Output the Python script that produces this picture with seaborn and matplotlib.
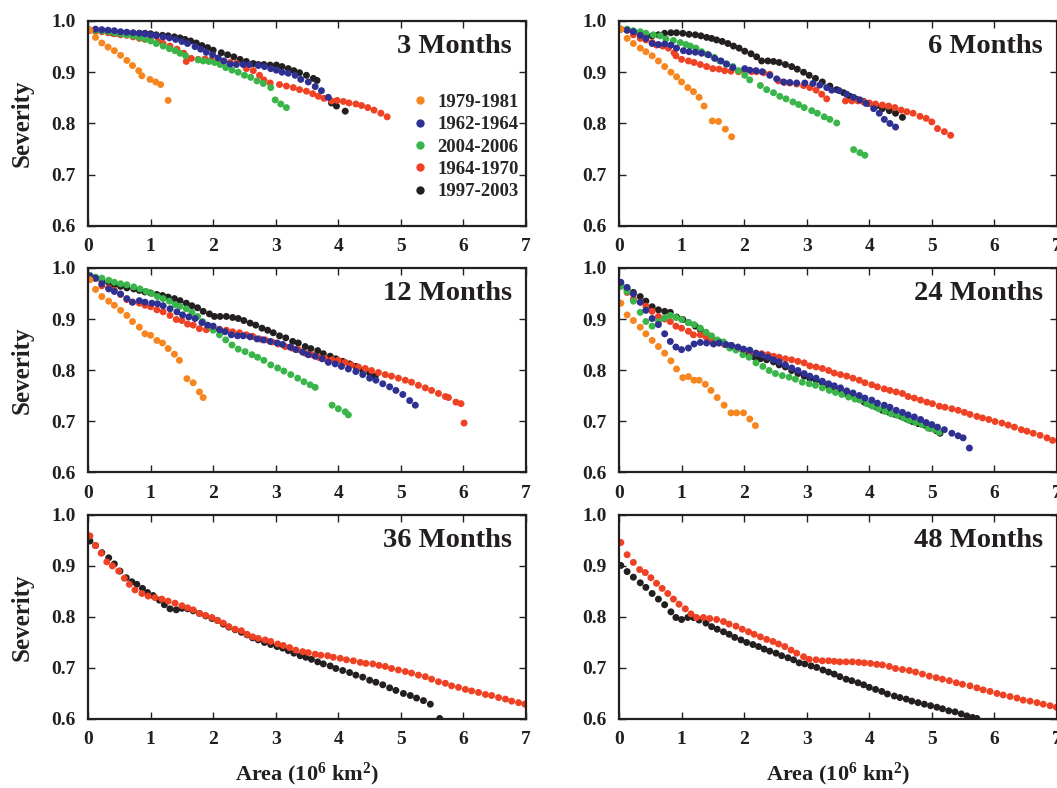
import pandas as pd
import matplotlib
matplotlib.use("Agg")
import matplotlib.pyplot as plt
import seaborn as sns

periods = ['1979-1981', '1962-1964', '2004-2006', '1964-1970', '1997-2003']
colors = ['#F7861F', '#2E3192', '#39B54A', '#EF4123', '#231F20']
panel_titles = ['3 Months', '6 Months', '12 Months', '24 Months', '36 Months', '48 Months']
x_ticks = [0, 1, 2, 3, 4, 5, 6, 7]
y_ticks = [0.6, 0.7, 0.8, 0.9, 1.0]

# ---- 3 months
m3_1979_x = [0.03, 0.12, 0.22, 0.32, 0.42, 0.52, 0.62, 0.71, 0.81, 0.86, 0.99, 1.08, 1.16, 1.28]
m3_1979_y = [0.982, 0.968, 0.957, 0.949, 0.942, 0.933, 0.923, 0.913, 0.903, 0.893, 0.886, 0.881, 0.876, 0.845]
m3_1962_x = [0.12, 0.22, 0.32, 0.42, 0.52, 0.62, 0.72, 0.82, 0.91, 1.00, 1.09, 1.20, 1.30, 1.40, 1.50, 1.59, 1.71,
             1.80, 1.89, 1.99, 2.08, 2.17, 2.27, 2.37, 2.48, 2.58, 2.72, 2.82, 2.92, 3.01, 3.10, 3.20, 3.31, 3.40,
             3.52, 3.63, 3.73, 3.84]
m3_1962_y = [0.984, 0.983, 0.982, 0.981, 0.979, 0.978, 0.977, 0.976, 0.975, 0.973, 0.971, 0.969, 0.967, 0.964, 0.960,
             0.956, 0.950, 0.945, 0.939, 0.934, 0.928, 0.922, 0.916, 0.915, 0.915, 0.915, 0.913, 0.911, 0.907, 0.904,
             0.900, 0.898, 0.894, 0.886, 0.881, 0.872, 0.864, 0.851]
m3_2004_x = [0.12, 0.22, 0.32, 0.42, 0.52, 0.62, 0.72, 0.82, 0.91, 1.00, 1.09, 1.20, 1.30, 1.39, 1.47, 1.56, 1.76,
             1.84, 1.93, 2.02, 2.11, 2.20, 2.30, 2.40, 2.50, 2.60, 2.70, 2.80, 2.92, 2.99, 3.08, 3.17]
m3_2004_y = [0.982, 0.981, 0.979, 0.977, 0.975, 0.973, 0.971, 0.968, 0.965, 0.961, 0.956, 0.951, 0.946, 0.942, 0.937,
             0.932, 0.924, 0.922, 0.921, 0.919, 0.915, 0.909, 0.904, 0.900, 0.894, 0.890, 0.883, 0.878, 0.870, 0.846,
             0.838, 0.831]
m3_1964_x = [0.03, 0.12, 0.22, 0.32, 0.42, 0.52, 0.62, 0.72, 0.82, 0.91, 1.00, 1.12, 1.20, 1.31, 1.42, 1.53, 1.57,
             1.65, 1.76, 1.87, 1.97, 2.07, 2.16, 2.27, 2.37, 2.53, 2.64, 2.74, 2.81, 2.91, 3.06, 3.17, 3.28, 3.38,
             3.49, 3.59, 3.68, 3.77, 3.89, 3.98, 4.08, 4.17, 4.28, 4.37, 4.47, 4.57, 4.68, 4.78]
m3_1964_y = [0.982, 0.980, 0.979, 0.977, 0.975, 0.973, 0.972, 0.969, 0.966, 0.964, 0.963, 0.960, 0.956, 0.951, 0.945,
             0.937, 0.921, 0.927, 0.925, 0.926, 0.924, 0.922, 0.921, 0.919, 0.917, 0.907, 0.903, 0.894, 0.885, 0.879,
             0.876, 0.873, 0.870, 0.866, 0.863, 0.858, 0.853, 0.849, 0.844, 0.845, 0.843, 0.840, 0.838, 0.835, 0.831,
             0.826, 0.820, 0.813]
m3_1997_x = [0.03, 0.22, 0.40, 0.50, 0.60, 0.72, 0.82, 0.91, 1.00, 1.09, 1.19, 1.28, 1.38, 1.47, 1.55, 1.64, 1.73,
             1.82, 1.91, 2.00, 2.13, 2.23, 2.33, 2.43, 2.53, 2.64, 2.72, 2.81, 2.91, 3.01, 3.10, 3.20, 3.29, 3.38,
             3.49, 3.60, 3.66, 3.89, 3.97, 4.11]
m3_1997_y = [0.982, 0.980, 0.976, 0.975, 0.976, 0.976, 0.976, 0.976, 0.975, 0.973, 0.972, 0.971, 0.969, 0.967, 0.964,
             0.961, 0.957, 0.952, 0.948, 0.943, 0.938, 0.934, 0.930, 0.925, 0.921, 0.917, 0.915, 0.915, 0.914, 0.914,
             0.911, 0.907, 0.903, 0.899, 0.894, 0.888, 0.884, 0.840, 0.834, 0.824]

# ---- 6 months
m6_1979_x = [0.03, 0.13, 0.23, 0.34, 0.43, 0.53, 0.63, 0.73, 0.83, 0.92, 1.00, 1.10, 1.19, 1.28, 1.36, 1.49, 1.59,
             1.70, 1.80]
m6_1979_y = [0.984, 0.966, 0.956, 0.947, 0.940, 0.932, 0.922, 0.911, 0.900, 0.891, 0.881, 0.870, 0.862, 0.851, 0.834,
             0.805, 0.804, 0.789, 0.774]
m6_1962_x = [0.13, 0.23, 0.34, 0.43, 0.53, 0.63, 0.73, 0.83, 0.92, 1.03, 1.12, 1.22, 1.32, 1.43, 1.53, 1.63, 1.72,
             1.82, 2.01, 2.09, 2.19, 2.29, 2.41, 2.52, 2.63, 2.73, 2.84, 2.97, 3.10, 3.21, 3.32, 3.40, 3.52, 3.64,
             3.75, 3.85, 3.95, 4.07, 4.16, 4.24, 4.33, 4.42]
m6_1962_y = [0.982, 0.979, 0.972, 0.966, 0.956, 0.954, 0.955, 0.953, 0.947, 0.942, 0.940, 0.939, 0.937, 0.934, 0.927,
             0.922, 0.916, 0.909, 0.907, 0.904, 0.903, 0.901, 0.894, 0.887, 0.881, 0.880, 0.879, 0.879, 0.878, 0.875,
             0.870, 0.865, 0.864, 0.857, 0.851, 0.846, 0.839, 0.829, 0.820, 0.808, 0.800, 0.793]
m6_2004_x = [0.13, 0.23, 0.34, 0.43, 0.55, 0.66, 0.75, 0.87, 0.98, 1.07, 1.14, 1.23, 1.32, 1.41, 1.52, 1.61, 1.71,
             1.82, 1.91, 2.01, 2.09, 2.26, 2.36, 2.47, 2.57, 2.67, 2.78, 2.87, 2.96, 3.08, 3.17, 3.28, 3.37, 3.48,
             3.75, 3.85, 3.93]
m6_2004_y = [0.984, 0.981, 0.979, 0.976, 0.973, 0.971, 0.965, 0.962, 0.958, 0.954, 0.951, 0.947, 0.940, 0.935, 0.929,
             0.922, 0.916, 0.911, 0.903, 0.894, 0.885, 0.874, 0.866, 0.860, 0.853, 0.848, 0.842, 0.837, 0.831, 0.825,
             0.820, 0.813, 0.808, 0.801, 0.749, 0.743, 0.738]
m6_1964_x = [0.13, 0.23, 0.34, 0.43, 0.53, 0.60, 0.70, 0.79, 0.88, 0.91, 1.00, 1.11, 1.20, 1.30, 1.40, 1.50, 1.60,
             1.69, 1.79, 1.91, 2.01, 2.12, 2.20, 2.31, 2.41, 2.55, 2.64, 2.73, 2.84, 2.95, 3.05, 3.15, 3.24, 3.32,
             3.62, 3.72, 3.82, 3.91, 4.00, 4.10, 4.21, 4.31, 4.41, 4.51, 4.60, 4.70, 4.81, 4.91, 5.00, 5.09, 5.20, 5.30]
m6_1964_y = [0.982, 0.973, 0.966, 0.963, 0.958, 0.953, 0.951, 0.947, 0.938, 0.932, 0.925, 0.922, 0.919, 0.915, 0.911,
             0.907, 0.906, 0.903, 0.902, 0.901, 0.904, 0.901, 0.901, 0.899, 0.896, 0.883, 0.880, 0.879, 0.877, 0.874,
             0.870, 0.865, 0.857, 0.848, 0.844, 0.844, 0.844, 0.842, 0.840, 0.838, 0.836, 0.834, 0.831, 0.826, 0.823,
             0.820, 0.814, 0.810, 0.803, 0.790, 0.784, 0.777]
m6_1997_x = [0.03, 0.23, 0.34, 0.43, 0.53, 0.63, 0.73, 0.83, 0.92, 1.02, 1.12, 1.22, 1.31, 1.40, 1.48, 1.56, 1.65,
             1.74, 1.83, 1.92, 2.01, 2.11, 2.20, 2.28, 2.38, 2.47, 2.56, 2.66, 2.76, 2.85, 2.95, 3.04, 3.14, 3.25,
             3.37, 3.48, 3.59, 3.69, 3.80, 3.91, 4.00, 4.11, 4.21, 4.32, 4.42, 4.53]
m6_1997_y = [0.984, 0.979, 0.976, 0.973, 0.971, 0.973, 0.976, 0.977, 0.977, 0.976, 0.974, 0.973, 0.971, 0.968, 0.966,
             0.963, 0.960, 0.956, 0.951, 0.947, 0.941, 0.936, 0.930, 0.922, 0.922, 0.921, 0.919, 0.915, 0.911, 0.906,
             0.900, 0.894, 0.888, 0.881, 0.873, 0.866, 0.860, 0.853, 0.847, 0.843, 0.839, 0.834, 0.829, 0.825, 0.820,
             0.812]

# ---- 12 months
m12_1979_x = [0.03, 0.12, 0.22, 0.33, 0.42, 0.52, 0.62, 0.71, 0.82, 0.91, 1.00, 1.10, 1.19, 1.28, 1.38, 1.46, 1.58,
              1.68, 1.78, 1.84]
m12_1979_y = [0.977, 0.958, 0.944, 0.935, 0.927, 0.917, 0.907, 0.895, 0.884, 0.871, 0.868, 0.858, 0.853, 0.842,
              0.831, 0.819, 0.783, 0.775, 0.757, 0.746]
m12_1962_x = [0.03, 0.12, 0.22, 0.33, 0.42, 0.52, 0.62, 0.71, 0.82, 0.91, 1.02, 1.11, 1.20, 1.31, 1.42, 1.51, 1.61,
              1.71, 1.82, 1.91, 2.00, 2.10, 2.19, 2.29, 2.39, 2.48, 2.59, 2.70, 2.80, 2.91, 3.02, 3.11, 3.23, 3.32,
              3.43, 3.52, 3.63, 3.74, 3.84, 3.95, 4.05, 4.16, 4.28, 4.39, 4.50, 4.60, 4.71, 4.82, 4.92, 5.03, 5.14, 5.23]
m12_1962_y = [0.984, 0.980, 0.969, 0.959, 0.954, 0.949, 0.940, 0.933, 0.936, 0.933, 0.931, 0.930, 0.926, 0.920,
              0.914, 0.908, 0.904, 0.901, 0.893, 0.888, 0.886, 0.879, 0.875, 0.869, 0.867, 0.867, 0.865, 0.861,
              0.859, 0.856, 0.853, 0.850, 0.845, 0.840, 0.835, 0.830, 0.827, 0.822, 0.815, 0.812, 0.807, 0.802,
              0.797, 0.791, 0.784, 0.780, 0.773, 0.767, 0.760, 0.752, 0.740, 0.731]
m12_2004_x = [0.03, 0.12, 0.22, 0.33, 0.42, 0.52, 0.62, 0.73, 0.83, 0.93, 1.02, 1.11, 1.20, 1.30, 1.39, 1.47, 1.57,
              1.66, 1.75, 1.83, 1.92, 2.00, 2.10, 2.20, 2.30, 2.40, 2.51, 2.62, 2.71, 2.81, 2.92, 3.03, 3.13, 3.24,
              3.35, 3.45, 3.55, 3.63, 3.90, 4.00, 4.11, 4.16]
m12_2004_y = [0.985, 0.982, 0.980, 0.976, 0.972, 0.969, 0.967, 0.963, 0.959, 0.954, 0.950, 0.944, 0.940, 0.935,
              0.928, 0.925, 0.920, 0.913, 0.905, 0.895, 0.887, 0.878, 0.869, 0.859, 0.849, 0.841, 0.836, 0.830,
              0.825, 0.819, 0.810, 0.804, 0.798, 0.791, 0.784, 0.777, 0.771, 0.766, 0.731, 0.724, 0.718, 0.712]
m12_1964_x = [0.03, 0.12, 0.22, 0.33, 0.42, 0.52, 0.62, 0.71, 0.82, 0.91, 1.00, 1.10, 1.20, 1.31, 1.41, 1.50, 1.59,
              1.68, 1.78, 1.89, 1.99, 2.10, 2.21, 2.31, 2.42, 2.53, 2.63, 2.74, 2.83, 2.94, 3.04, 3.15, 3.26, 3.36,
              3.47, 3.58, 3.68, 3.79, 3.90, 4.00, 4.11, 4.21, 4.32, 4.43, 4.53, 4.64, 4.75, 4.85, 4.96, 5.07, 5.17,
              5.28, 5.39, 5.49, 5.60, 5.71, 5.76, 5.88, 5.96, 6.01]
m12_1964_y = [0.984, 0.980, 0.965, 0.961, 0.956, 0.948, 0.938, 0.933, 0.931, 0.927, 0.924, 0.918, 0.914, 0.907,
              0.899, 0.897, 0.890, 0.888, 0.881, 0.879, 0.882, 0.880, 0.878, 0.875, 0.873, 0.869, 0.866, 0.861,
              0.859, 0.855, 0.851, 0.846, 0.843, 0.840, 0.833, 0.830, 0.825, 0.822, 0.820, 0.819, 0.815, 0.810,
              0.806, 0.803, 0.799, 0.795, 0.791, 0.788, 0.784, 0.780, 0.776, 0.770, 0.765, 0.760, 0.754, 0.748,
              0.746, 0.737, 0.734, 0.696]
m12_1997_x = [0.03, 0.12, 0.22, 0.33, 0.42, 0.52, 0.62, 0.73, 0.82, 0.91, 1.00, 1.10, 1.19, 1.28, 1.38, 1.47, 1.57,
              1.66, 1.75, 1.84, 1.94, 2.02, 2.11, 2.21, 2.31, 2.40, 2.49, 2.59, 2.68, 2.78, 2.87, 2.96, 3.06, 3.16,
              3.27, 3.36, 3.47, 3.56, 3.67, 3.76, 3.87, 3.96, 4.07, 4.18, 4.28, 4.39, 4.50, 4.59]
m12_1997_y = [0.985, 0.980, 0.976, 0.972, 0.967, 0.964, 0.961, 0.959, 0.956, 0.953, 0.951, 0.948, 0.946, 0.943,
              0.940, 0.936, 0.931, 0.926, 0.922, 0.915, 0.910, 0.905, 0.905, 0.905, 0.903, 0.901, 0.897, 0.892,
              0.888, 0.882, 0.878, 0.873, 0.867, 0.863, 0.856, 0.853, 0.846, 0.842, 0.838, 0.832, 0.827, 0.822,
              0.817, 0.812, 0.807, 0.799, 0.794, 0.788]

# ---- 24 months
m24_1979_x = [0.03, 0.13, 0.23, 0.34, 0.43, 0.53, 0.63, 0.73, 0.83, 0.92, 1.02, 1.11, 1.20, 1.28, 1.38, 1.47, 1.57,
              1.68, 1.79, 1.88, 1.99, 2.09, 2.18]
m24_1979_y = [0.931, 0.908, 0.897, 0.884, 0.871, 0.858, 0.846, 0.833, 0.818, 0.802, 0.785, 0.787, 0.780, 0.780,
              0.772, 0.760, 0.746, 0.731, 0.716, 0.716, 0.716, 0.704, 0.691]
m24_1962_x = [0.03, 0.13, 0.23, 0.34, 0.43, 0.53, 0.63, 0.73, 0.82, 0.91, 1.00, 1.11, 1.20, 1.30, 1.40, 1.51, 1.60,
              1.71, 1.80, 1.90, 1.99, 2.09, 2.19, 2.28, 2.38, 2.47, 2.56, 2.66, 2.76, 2.86, 2.96, 3.05, 3.15, 3.25,
              3.35, 3.44, 3.54, 3.64, 3.74, 3.84, 3.93, 4.04, 4.13, 4.24, 4.33, 4.43, 4.53, 4.62, 4.72, 4.82, 4.91,
              5.00, 5.09, 5.20, 5.32, 5.42, 5.50, 5.60]
m24_1962_y = [0.972, 0.962, 0.949, 0.933, 0.917, 0.901, 0.889, 0.871, 0.856, 0.845, 0.840, 0.843, 0.851, 0.854,
              0.853, 0.851, 0.853, 0.850, 0.848, 0.845, 0.841, 0.839, 0.833, 0.830, 0.825, 0.820, 0.816, 0.810,
              0.804, 0.799, 0.793, 0.788, 0.784, 0.778, 0.773, 0.769, 0.765, 0.759, 0.755, 0.750, 0.745, 0.741,
              0.735, 0.731, 0.727, 0.721, 0.717, 0.712, 0.708, 0.703, 0.697, 0.693, 0.688, 0.683, 0.676, 0.671,
              0.667, 0.647]
m24_2004_x = [0.03, 0.13, 0.23, 0.34, 0.43, 0.53, 0.63, 0.73, 0.82, 0.91, 1.00, 1.11, 1.20, 1.30, 1.39, 1.48, 1.57,
              1.67, 1.77, 1.87, 1.98, 2.08, 2.19, 2.30, 2.40, 2.50, 2.61, 2.72, 2.82, 2.93, 3.04, 3.14, 3.25, 3.36,
              3.46, 3.56, 3.67, 3.77, 3.86, 3.96, 4.05, 4.15, 4.25, 4.35, 4.45, 4.55, 4.64, 4.74, 4.84, 4.94, 5.04,
              5.12]
m24_2004_y = [0.964, 0.954, 0.935, 0.913, 0.895, 0.886, 0.895, 0.902, 0.907, 0.903, 0.899, 0.893, 0.889, 0.882,
              0.874, 0.867, 0.859, 0.855, 0.843, 0.839, 0.830, 0.825, 0.814, 0.807, 0.799, 0.793, 0.789, 0.786,
              0.782, 0.776, 0.773, 0.770, 0.765, 0.760, 0.756, 0.752, 0.747, 0.743, 0.741, 0.734, 0.729, 0.724,
              0.719, 0.714, 0.711, 0.706, 0.701, 0.697, 0.693, 0.686, 0.683, 0.678]
m24_1964_x = [0.03, 0.13, 0.23, 0.34, 0.43, 0.53, 0.63, 0.73, 0.82, 0.91, 1.00, 1.11, 1.19, 1.30, 1.39, 1.48, 1.59,
              1.69, 1.80, 1.90, 1.99, 2.09, 2.19, 2.28, 2.38, 2.47, 2.56, 2.66, 2.76, 2.86, 2.96, 3.05, 3.15, 3.25,
              3.35, 3.44, 3.54, 3.64, 3.74, 3.84, 3.93, 4.04, 4.13, 4.24, 4.33, 4.43, 4.53, 4.62, 4.72, 4.82, 4.92,
              5.01, 5.12, 5.21, 5.32, 5.42, 5.52, 5.61, 5.72, 5.81, 5.91, 6.01, 6.12, 6.22, 6.32, 6.43, 6.52, 6.62,
              6.73, 6.84, 6.93]
m24_1964_y = [0.965, 0.952, 0.939, 0.933, 0.925, 0.915, 0.905, 0.900, 0.895, 0.886, 0.882, 0.876, 0.869, 0.869,
              0.865, 0.859, 0.853, 0.850, 0.845, 0.842, 0.839, 0.837, 0.833, 0.832, 0.830, 0.827, 0.825, 0.822,
              0.820, 0.817, 0.814, 0.808, 0.806, 0.803, 0.799, 0.794, 0.791, 0.788, 0.784, 0.780, 0.775, 0.771,
              0.767, 0.763, 0.760, 0.757, 0.754, 0.748, 0.745, 0.741, 0.737, 0.734, 0.729, 0.727, 0.724, 0.721,
              0.717, 0.713, 0.709, 0.706, 0.703, 0.699, 0.696, 0.692, 0.688, 0.683, 0.680, 0.676, 0.672, 0.667, 0.662]
m24_1997_x = [0.03, 0.13, 0.23, 0.34, 0.43, 0.53, 0.63, 0.73, 0.82, 0.92, 1.02, 1.11, 1.22, 1.30, 1.39, 1.48, 1.59,
              1.69, 1.79, 1.90, 1.99, 2.08, 2.17, 2.26, 2.36, 2.47, 2.56, 2.66, 2.76, 2.86, 2.96, 3.05, 3.15, 3.25,
              3.35, 3.44, 3.54, 3.64, 3.74, 3.83, 3.92, 4.02, 4.12, 4.21, 4.32, 4.41, 4.51, 4.60, 4.69, 4.78, 4.88,
              4.97, 5.07, 5.13]
m24_1997_y = [0.967, 0.958, 0.952, 0.944, 0.935, 0.924, 0.918, 0.915, 0.913, 0.904, 0.899, 0.893, 0.886, 0.879,
              0.873, 0.864, 0.856, 0.850, 0.848, 0.843, 0.838, 0.832, 0.825, 0.822, 0.820, 0.816, 0.810, 0.806,
              0.799, 0.793, 0.788, 0.783, 0.780, 0.775, 0.769, 0.765, 0.759, 0.753, 0.750, 0.743, 0.737, 0.732,
              0.727, 0.721, 0.717, 0.713, 0.709, 0.704, 0.699, 0.695, 0.692, 0.686, 0.681, 0.676]

# ---- 36 months
m36_1964_x = [0.03, 0.12, 0.21, 0.30, 0.39, 0.49, 0.58, 0.66, 0.75, 0.86, 0.96, 1.07, 1.18, 1.28, 1.39, 1.50, 1.59,
              1.68, 1.78, 1.88, 1.98, 2.07, 2.16, 2.25, 2.35, 2.45, 2.54, 2.63, 2.72, 2.83, 2.92, 3.03, 3.12, 3.22,
              3.32, 3.43, 3.52, 3.63, 3.72, 3.83, 3.92, 4.03, 4.13, 4.24, 4.35, 4.44, 4.55, 4.65, 4.75, 4.85, 4.96,
              5.07, 5.17, 5.28, 5.39, 5.49, 5.60, 5.71, 5.81, 5.92, 6.03, 6.13, 6.24, 6.35, 6.45, 6.56, 6.67, 6.77,
              6.88, 6.98]
m36_1964_y = [0.959, 0.940, 0.925, 0.908, 0.900, 0.890, 0.876, 0.864, 0.853, 0.846, 0.841, 0.838, 0.835, 0.831,
              0.827, 0.822, 0.818, 0.814, 0.807, 0.803, 0.799, 0.793, 0.788, 0.781, 0.776, 0.773, 0.766, 0.761,
              0.758, 0.755, 0.752, 0.747, 0.744, 0.740, 0.735, 0.732, 0.730, 0.727, 0.725, 0.724, 0.721, 0.719,
              0.716, 0.714, 0.711, 0.709, 0.708, 0.705, 0.703, 0.699, 0.696, 0.693, 0.690, 0.686, 0.683, 0.678,
              0.673, 0.670, 0.665, 0.662, 0.658, 0.655, 0.652, 0.648, 0.646, 0.642, 0.639, 0.635, 0.632, 0.629]
m36_1997_x = [0.03, 0.12, 0.22, 0.33, 0.42, 0.51, 0.61, 0.70, 0.78, 0.87, 0.95, 1.04, 1.14, 1.22, 1.31, 1.41, 1.50,
              1.59, 1.68, 1.78, 1.88, 1.98, 2.07, 2.16, 2.25, 2.35, 2.45, 2.54, 2.63, 2.72, 2.82, 2.92, 3.02, 3.11,
              3.20, 3.29, 3.39, 3.48, 3.57, 3.67, 3.76, 3.87, 3.96, 4.07, 4.18, 4.28, 4.39, 4.50, 4.60, 4.71, 4.82,
              4.92, 5.04, 5.15, 5.25, 5.36, 5.47, 5.62]
m36_1997_y = [0.949, 0.940, 0.926, 0.916, 0.904, 0.890, 0.877, 0.869, 0.864, 0.856, 0.848, 0.842, 0.833, 0.824,
              0.816, 0.814, 0.817, 0.816, 0.812, 0.807, 0.802, 0.797, 0.793, 0.786, 0.780, 0.775, 0.770, 0.765,
              0.759, 0.755, 0.750, 0.746, 0.742, 0.739, 0.734, 0.729, 0.724, 0.721, 0.717, 0.712, 0.708, 0.704,
              0.699, 0.695, 0.691, 0.686, 0.682, 0.676, 0.672, 0.667, 0.661, 0.656, 0.650, 0.646, 0.641, 0.636,
              0.629, 0.601]

# ---- 48 months
m48_1964_x = [0.03, 0.13, 0.23, 0.33, 0.42, 0.51, 0.60, 0.69, 0.78, 0.87, 0.96, 1.06, 1.15, 1.24, 1.35, 1.45, 1.56,
              1.67, 1.76, 1.87, 1.97, 2.07, 2.16, 2.26, 2.36, 2.46, 2.55, 2.65, 2.75, 2.84, 2.95, 3.04, 3.15, 3.25,
              3.35, 3.44, 3.53, 3.63, 3.73, 3.83, 3.92, 4.02, 4.12, 4.21, 4.32, 4.42, 4.53, 4.64, 4.74, 4.85, 4.96,
              5.07, 5.17, 5.28, 5.39, 5.49, 5.61, 5.72, 5.82, 5.93, 6.04, 6.14, 6.25, 6.36, 6.46, 6.57, 6.68, 6.78,
              6.89, 6.99]
m48_1964_y = [0.946, 0.922, 0.907, 0.893, 0.887, 0.877, 0.866, 0.856, 0.846, 0.835, 0.825, 0.816, 0.806, 0.799,
              0.799, 0.797, 0.795, 0.791, 0.786, 0.782, 0.776, 0.771, 0.766, 0.761, 0.756, 0.752, 0.747, 0.742,
              0.735, 0.729, 0.722, 0.717, 0.716, 0.714, 0.714, 0.713, 0.712, 0.712, 0.712, 0.711, 0.710, 0.709,
              0.707, 0.706, 0.703, 0.699, 0.697, 0.695, 0.692, 0.688, 0.684, 0.681, 0.678, 0.675, 0.671, 0.668,
              0.665, 0.661, 0.657, 0.654, 0.650, 0.647, 0.644, 0.641, 0.637, 0.635, 0.632, 0.629, 0.626, 0.623]
m48_1997_x = [0.03, 0.13, 0.23, 0.34, 0.43, 0.53, 0.63, 0.73, 0.83, 0.91, 1.00, 1.10, 1.19, 1.28, 1.39, 1.48, 1.57,
              1.67, 1.76, 1.85, 1.95, 2.04, 2.14, 2.23, 2.32, 2.41, 2.51, 2.60, 2.70, 2.79, 2.88, 2.97, 3.07, 3.16,
              3.26, 3.35, 3.44, 3.53, 3.63, 3.72, 3.82, 3.91, 4.00, 4.10, 4.20, 4.29, 4.40, 4.49, 4.59, 4.68, 4.78,
              4.88, 4.98, 5.08, 5.17, 5.27, 5.37, 5.47, 5.56, 5.65, 5.72]
m48_1997_y = [0.901, 0.889, 0.878, 0.867, 0.858, 0.846, 0.835, 0.824, 0.810, 0.799, 0.795, 0.799, 0.799, 0.794,
              0.788, 0.781, 0.776, 0.771, 0.766, 0.760, 0.755, 0.750, 0.746, 0.742, 0.737, 0.733, 0.729, 0.724,
              0.720, 0.716, 0.710, 0.708, 0.704, 0.701, 0.696, 0.692, 0.688, 0.683, 0.678, 0.675, 0.671, 0.667,
              0.662, 0.658, 0.654, 0.649, 0.645, 0.642, 0.639, 0.635, 0.632, 0.629, 0.626, 0.623, 0.620, 0.616,
              0.614, 0.610, 0.606, 0.603, 0.601]

# series per panel, listed in drawing order (first drawn = bottom)
panels = {
    '3 Months': [('1997-2003', m3_1997_x, m3_1997_y), ('1964-1970', m3_1964_x, m3_1964_y),
                 ('2004-2006', m3_2004_x, m3_2004_y), ('1962-1964', m3_1962_x, m3_1962_y),
                 ('1979-1981', m3_1979_x, m3_1979_y)],
    '6 Months': [('1997-2003', m6_1997_x, m6_1997_y), ('1964-1970', m6_1964_x, m6_1964_y),
                 ('2004-2006', m6_2004_x, m6_2004_y), ('1962-1964', m6_1962_x, m6_1962_y),
                 ('1979-1981', m6_1979_x, m6_1979_y)],
    '12 Months': [('1997-2003', m12_1997_x, m12_1997_y), ('1964-1970', m12_1964_x, m12_1964_y),
                  ('2004-2006', m12_2004_x, m12_2004_y), ('1962-1964', m12_1962_x, m12_1962_y),
                  ('1979-1981', m12_1979_x, m12_1979_y)],
    '24 Months': [('1997-2003', m24_1997_x, m24_1997_y), ('1964-1970', m24_1964_x, m24_1964_y),
                  ('2004-2006', m24_2004_x, m24_2004_y), ('1962-1964', m24_1962_x, m24_1962_y),
                  ('1979-1981', m24_1979_x, m24_1979_y)],
    '36 Months': [('1997-2003', m36_1997_x, m36_1997_y), ('1964-1970', m36_1964_x, m36_1964_y)],
    '48 Months': [('1997-2003', m48_1997_x, m48_1997_y), ('1964-1970', m48_1964_x, m48_1964_y)],
}

sns.set_style("ticks")
plt.rcParams['font.family'] = ['Liberation Serif', 'DejaVu Serif']
plt.rcParams['font.weight'] = 'bold'
plt.rcParams['axes.labelweight'] = 'bold'
plt.rcParams['mathtext.fontset'] = 'custom'
plt.rcParams['mathtext.rm'] = 'Liberation Serif:bold'
plt.rcParams['mathtext.bf'] = 'Liberation Serif:bold'
plt.rcParams['mathtext.default'] = 'bf'

palette = dict(zip(periods, colors))

fig = plt.figure(figsize=(10.57, 7.88), dpi=100)
lefts = [0.0833, 0.5856]
rows = [(0.7132, 0.2602), (0.4010, 0.2589), (0.0876, 0.2589)]

for i, title in enumerate(panel_titles):
    r, c = divmod(i, 2)
    ax = fig.add_axes([lefts[c], rows[r][0], 0.4144, rows[r][1]])

    frames = [pd.DataFrame({'area': xs, 'severity': ys, 'period': name})
              for name, xs, ys in panels[title]]
    df = pd.concat(frames, ignore_index=True)

    sns.scatterplot(data=df, x='area', y='severity', hue='period', hue_order=periods,
                    palette=palette, s=25, linewidth=0, ax=ax, legend=(i == 0))

    ax.set_xlim(0, 7)
    ax.set_ylim(0.6, 1.0)
    ax.set_xticks(x_ticks)
    ax.set_yticks(y_ticks)
    ax.set_yticklabels([f'{v:.1f}' for v in y_ticks])
    ax.tick_params(direction='in', top=True, right=True, length=5, width=1,
                   labelsize=14, colors='#231F20')
    ax.tick_params(axis='x', pad=9)
    ax.tick_params(axis='y', pad=9)
    for sp in ax.spines.values():
        sp.set_linewidth(1.6)
        sp.set_color('#231F20')

    ax.text(0.968, 0.875, title, transform=ax.transAxes, ha='right', va='center',
            fontsize=20.5, fontweight='bold', color='#231F20')

    if c == 0:
        ax.set_ylabel('Severity', fontsize=18, color='#231F20')
        ax.yaxis.set_label_coords(-0.125, 0.5)
    else:
        ax.set_ylabel('')
    if r == 2:
        ax.set_xlabel(r'Area (10$^{6}$ km$^{2}$)', fontsize=16, color='#231F20')
        ax.xaxis.set_label_coords(0.5, -0.205)
    else:
        ax.set_xlabel('')

    if i == 0:
        sns.move_legend(ax, 'upper left', bbox_to_anchor=(0.737, 0.645), frameon=False, title=None,
                        fontsize=13.5, handlelength=1.0, handletextpad=0.4, labelspacing=0.28,
                        borderpad=0, borderaxespad=0, markerscale=1.2)

fig.savefig('out.png', dpi=100)
